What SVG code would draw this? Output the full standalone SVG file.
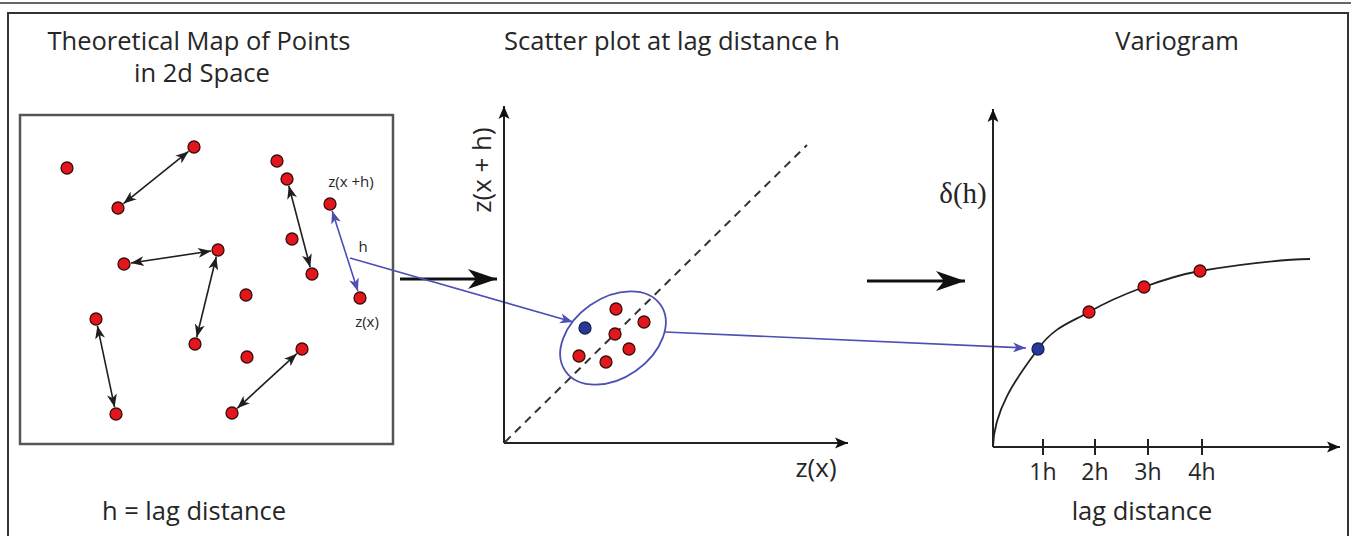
<svg xmlns="http://www.w3.org/2000/svg" width="1351" height="536" viewBox="0 0 1351 536">
<style>
.t{font-family:"Open Sans","Liberation Sans",sans-serif;fill:#262626}
.pt{fill:#e3161c;stroke:#3a0c0c;stroke-width:1.3}
.bp{fill:#26389a;stroke:#1a2250;stroke-width:1.3}
.blk{stroke:#1e1e1e;stroke-width:1.6;fill:none}
.blu{stroke:#4d4fb3;stroke-width:1.6;fill:none}
.ax{stroke:#222;stroke-width:2;fill:none}
</style>
<defs>
<marker id="ab" markerUnits="userSpaceOnUse" markerWidth="14" markerHeight="11" refX="13" refY="5.5" orient="auto-start-reverse" viewBox="0 0 14 11">
<path d="M0,0.5 L13,5.5 L0,10.5 L3.5,5.5 Z" fill="#1e1e1e"/>
</marker>
<marker id="au" markerUnits="userSpaceOnUse" markerWidth="14" markerHeight="11" refX="13" refY="5.5" orient="auto-start-reverse" viewBox="0 0 14 11">
<path d="M0,0.5 L13,5.5 L0,10.5 L3.5,5.5 Z" fill="#4d4fb3"/>
</marker>
<marker id="ax" markerUnits="userSpaceOnUse" markerWidth="14" markerHeight="12" refX="13" refY="6" orient="auto" viewBox="0 0 14 12">
<path d="M0,0.5 L13,6 L0,11.5 L3,6 Z" fill="#111"/>
</marker>
<marker id="big" markerUnits="userSpaceOnUse" markerWidth="30" markerHeight="20" refX="29" refY="10" orient="auto" viewBox="0 0 30 20">
<path d="M0,0 L29,10 L0,20 L8,10 Z" fill="#111"/>
</marker>
</defs>

<g id="frame">
<line x1="0" y1="3" x2="1351" y2="3" stroke="#333" stroke-width="1.5"/>
<rect x="8" y="13" width="1340" height="540" fill="#fff" stroke="#333" stroke-width="2"/>
</g>

<g id="titles">
<text class="t" x="199" y="50" font-size="25.5" text-anchor="middle">Theoretical Map of Points</text>
<text class="t" x="202" y="82" font-size="25.5" text-anchor="middle">in 2d Space</text>
<text class="t" x="672" y="50" font-size="25.5" text-anchor="middle">Scatter plot at lag distance h</text>
<text class="t" x="1177" y="50" font-size="25.5" text-anchor="middle">Variogram</text>
<text class="t" x="194" y="520" font-size="25.5" text-anchor="middle">h = lag distance</text>
<text class="t" x="1142" y="520" font-size="25.5" text-anchor="middle">lag distance</text>
</g>

<g id="map">
<rect x="20" y="115" width="373" height="329" fill="none" stroke="#555" stroke-width="2.5"/>
<text class="t" x="351" y="187" font-size="15" text-anchor="middle">z(x +h)</text>
<text class="t" x="363" y="252" font-size="15" text-anchor="middle">h</text>
<text class="t" x="367" y="327" font-size="15" text-anchor="middle">z(x)</text>
</g>

<g id="connectors">
<line class="blk" x1="123.5" y1="203.6" x2="188.5" y2="151.4" marker-start="url(#ab)" marker-end="url(#ab)"/>
<line class="blk" x1="130.9" y1="263" x2="211.1" y2="251" marker-start="url(#ab)" marker-end="url(#ab)"/>
<line class="blk" x1="216.3" y1="256.8" x2="196.7" y2="337.2" marker-start="url(#ab)" marker-end="url(#ab)"/>
<line class="blk" x1="288.8" y1="185.8" x2="310.2" y2="267.2" marker-start="url(#ab)" marker-end="url(#ab)"/>
<line class="blk" x1="97.4" y1="325.8" x2="114.6" y2="407.2" marker-start="url(#ab)" marker-end="url(#ab)"/>
<line class="blk" x1="237.2" y1="408.3" x2="296.8" y2="353.7" marker-start="url(#ab)" marker-end="url(#ab)"/>
<line class="blu" x1="332.1" y1="210.7" x2="357.9" y2="291.3" marker-start="url(#au)" marker-end="url(#au)"/>
<line x1="400" y1="279" x2="497" y2="279" stroke="#111" stroke-width="3" marker-end="url(#big)"/>
<line x1="867" y1="281" x2="965" y2="281" stroke="#111" stroke-width="3" marker-end="url(#big)"/>
<line class="blu" x1="350" y1="258" x2="573" y2="322" marker-end="url(#au)"/>
<line class="blu" x1="665" y1="332" x2="1026" y2="348" marker-end="url(#au)"/>
</g>

<g id="points">
<circle class="pt" cx="67" cy="168" r="6"/>
<circle class="pt" cx="194" cy="147" r="6"/>
<circle class="pt" cx="118" cy="208" r="6"/>
<circle class="pt" cx="277" cy="161" r="6"/>
<circle class="pt" cx="287" cy="179" r="6"/>
<circle class="pt" cx="330" cy="204" r="6"/>
<circle class="pt" cx="292" cy="239" r="6"/>
<circle class="pt" cx="312" cy="274" r="6"/>
<circle class="pt" cx="124" cy="264" r="6"/>
<circle class="pt" cx="218" cy="250" r="6"/>
<circle class="pt" cx="246" cy="295" r="6"/>
<circle class="pt" cx="360" cy="298" r="6"/>
<circle class="pt" cx="96" cy="319" r="6"/>
<circle class="pt" cx="195" cy="344" r="6"/>
<circle class="pt" cx="247" cy="357" r="6"/>
<circle class="pt" cx="302" cy="349" r="6"/>
<circle class="pt" cx="116" cy="414" r="6"/>
<circle class="pt" cx="232" cy="413" r="6"/>
</g>

<g id="scatter">
<line class="ax" x1="504" y1="443" x2="504" y2="106" marker-end="url(#ax)"/>
<line class="ax" x1="504" y1="443" x2="848" y2="443" marker-end="url(#ax)"/>
<line x1="505" y1="442" x2="807" y2="145" stroke="#333" stroke-width="2" stroke-dasharray="8,6"/>
<text class="t" transform="translate(491,170) rotate(-90)" font-size="26" text-anchor="middle">z(x + h)</text>
<text class="t" x="816" y="477" font-size="26" text-anchor="middle">z(x)</text>
<ellipse cx="613" cy="338" rx="58" ry="40" transform="rotate(-35 613 338)" fill="none" stroke="#4d4fb3" stroke-width="1.8"/>
<circle class="bp" cx="585" cy="328" r="6"/>
<circle class="pt" cx="616" cy="309" r="6"/>
<circle class="pt" cx="644" cy="322" r="6"/>
<circle class="pt" cx="615" cy="334" r="6"/>
<circle class="pt" cx="579" cy="356" r="6"/>
<circle class="pt" cx="629" cy="349" r="6"/>
<circle class="pt" cx="606" cy="362" r="6"/>
</g>

<g id="variogram">
<line class="ax" x1="993" y1="447" x2="993" y2="109" marker-end="url(#ax)"/>
<line class="ax" x1="993" y1="447" x2="1340" y2="447" marker-end="url(#ax)"/>
<path d="M1043,439 V455 M1095,439 V455 M1148,439 V455 M1202,439 V455" stroke="#222" stroke-width="2"/>
<text class="t" x="1043" y="480" font-size="23" text-anchor="middle">1h</text>
<text class="t" x="1095" y="480" font-size="23" text-anchor="middle">2h</text>
<text class="t" x="1148" y="480" font-size="23" text-anchor="middle">3h</text>
<text class="t" x="1202" y="480" font-size="23" text-anchor="middle">4h</text>
<text x="963" y="203" font-family="Liberation Serif,serif" font-size="29" fill="#262626" text-anchor="middle">δ(h)</text>
<path d="M993,447 C994,405 1022,371.5 1038,349 C1054,326.5 1071.3,322.3 1089,312 C1106.7,301.7 1125.5,293.8 1144,287 C1162.5,280.2 1180,274.5 1200,271 C1236,265 1270,260 1310,259" fill="none" stroke="#222" stroke-width="1.8"/>
<circle class="bp" cx="1038" cy="349" r="6"/>
<circle class="pt" cx="1089" cy="312" r="6"/>
<circle class="pt" cx="1144" cy="287" r="6"/>
<circle class="pt" cx="1200" cy="271" r="6"/>
</g>
</svg>
